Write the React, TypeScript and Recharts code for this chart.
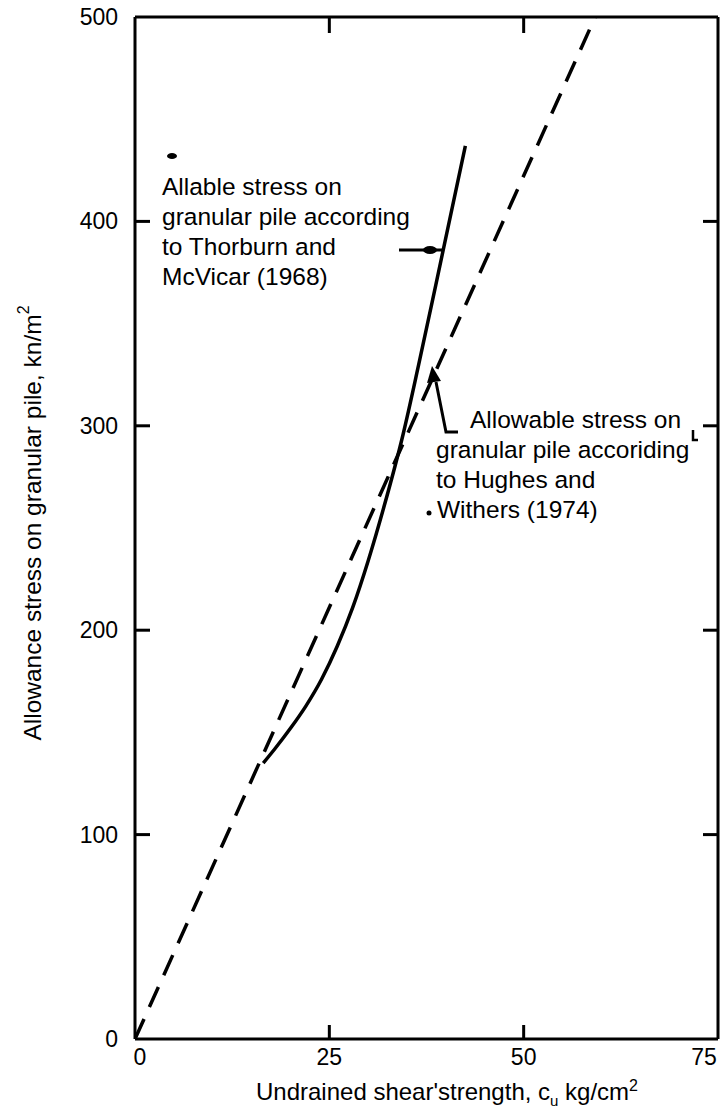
import React from 'react';
import {
  LineChart,
  Line,
  XAxis,
  YAxis,
  Customized,
} from 'recharts';

// Hughes & Withers (1974) – straight dashed line from the origin
const hughesCu = [0, 59.2];
const hughesStress = [0, 500];

// Thorburn & McVicar (1968) – solid curve
const thorburnCu = [16.5, 18, 20, 22, 24, 26, 28, 30, 32, 34.5, 36.5, 38.7, 42.5];
const thorburnStress = [135, 142, 152, 163, 176, 192, 211, 234, 260, 296, 330, 369, 437];

const xTicks = [0, 25, 50, 75];
const xInnerTicks = [25, 50];
const yTicks = [0, 100, 200, 300, 400, 500];
const yInnerTicks = [100, 200, 300, 400];

const hughesData = hughesCu.map((x, i) => ({ x, y: hughesStress[i] }));
const thorburnData = thorburnCu.map((x, i) => ({ x, y: thorburnStress[i] }));

const FONT = '"Liberation Sans", Arial, Helvetica, sans-serif';
const INK = '#000';

const LeftTick = (props: any) => {
  const { x, y, payload } = props;
  const v = payload.value;
  return (
    <g>
      <text x={x} y={y} textAnchor="end" dominantBaseline="central" fontSize={23} fontFamily={FONT} fill={INK}>
        {v}
      </text>
      {yInnerTicks.includes(v) && (
        <line x1={x + 17} x2={x + 32} y1={y} y2={y} stroke={INK} strokeWidth={3} />
      )}
    </g>
  );
};

const RightTick = (props: any) => {
  const { x, y } = props;
  return <line x1={x} x2={x - 15} y1={y} y2={y} stroke={INK} strokeWidth={3} />;
};

const BottomTick = (props: any) => {
  const { x, y, payload } = props;
  const v = payload.value;
  const dx = v === 75 ? -10 : v === 0 ? 5 : 0;
  return (
    <g>
      <text x={x + dx} y={y + 17} textAnchor="middle" fontSize={23} fontFamily={FONT} fill={INK}>
        {v}
      </text>
      {xInnerTicks.includes(v) && (
        <line x1={x} x2={x} y1={y - 9} y2={y - 23} stroke={INK} strokeWidth={3} />
      )}
    </g>
  );
};

const TopTick = (props: any) => {
  const { x, y } = props;
  return <line x1={x} x2={x} y1={y} y2={y + 16} stroke={INK} strokeWidth={3} />;
};

const Annotations = () => {
  const t = { fontSize: 24.5, fontFamily: FONT, fill: INK };
  return (
    <g>
      {/* axis titles */}
      <text
        x={32}
        y={523}
        transform="rotate(-90 32 523)"
        textAnchor="middle"
        dominantBaseline="central"
        {...t}
      >
        Allowance stress on granular pile, kn/m
        <tspan dy={-9} fontSize={16}>2</tspan>
      </text>
      <text x={447} y={1100} textAnchor="middle" {...t} fontSize={24}>
        Undrained shear'strength, c
        <tspan dy={6} fontSize={15}>u</tspan>
        <tspan dy={-6}> kg/cm</tspan>
        <tspan dy={-9} fontSize={16}>2</tspan>
      </text>

      {/* Thorburn and McVicar label */}
      <text x={162} y={195} {...t}>Allable stress on</text>
      <text x={162} y={225} {...t}>granular pile according</text>
      <text x={162} y={255} {...t}>to Thorburn and</text>
      <text x={162} y={285} {...t}>McVicar (1968)</text>
      <line x1={399} x2={442} y1={250} y2={250} stroke={INK} strokeWidth={3} />
      <ellipse cx={430} cy={250} rx={7} ry={4} fill={INK} />

      {/* Hughes and Withers label */}
      <text x={470} y={428} {...t}>Allowable stress on</text>
      <text x={436} y={458} {...t}>granular pile accoriding</text>
      <text x={436} y={488} {...t}>to Hughes and</text>
      <text x={437} y={518} {...t}>Withers (1974)</text>
      <circle cx={429} cy={513} r={2.5} fill={INK} />
      <polyline points="458,432 446,432 436,382" fill="none" stroke={INK} strokeWidth={3} />
      <polygon points="432,366 427,383 441,381" fill={INK} />

      {/* specks from the scan */}
      <ellipse cx={172} cy={156} rx={5} ry={3} fill={INK} />
      <path d="M693 430 L693 440 L698 440" fill="none" stroke={INK} strokeWidth={2.5} />
    </g>
  );
};

export default function App() {
  return (
    <div style={{ position: 'absolute', left: 0, top: 0, background: '#fff' }}>
      <LineChart
        width={722}
        height={1112}
        margin={{ top: 16, right: 3, bottom: 0, left: 0 }}
      >
        <XAxis
          xAxisId="b"
          type="number"
          dataKey="x"
          domain={[0, 75]}
          ticks={xTicks}
          height={73}
          tickSize={0}
          tickMargin={9}
          tickLine={false}
          tick={<BottomTick />}
          axisLine={{ stroke: INK, strokeWidth: 3 }}
          allowDataOverflow
        />
        <XAxis
          xAxisId="t"
          orientation="top"
          type="number"
          dataKey="x"
          domain={[0, 75]}
          ticks={xInnerTicks}
          height={1}
          tickSize={0}
          tickMargin={0}
          tickLine={false}
          tick={<TopTick />}
          axisLine={{ stroke: INK, strokeWidth: 3 }}
          allowDataOverflow
        />
        <YAxis
          yAxisId="l"
          type="number"
          domain={[0, 500]}
          ticks={yTicks}
          width={135}
          tickSize={0}
          tickMargin={17}
          tickLine={false}
          tick={<LeftTick />}
          axisLine={{ stroke: INK, strokeWidth: 3 }}
          allowDataOverflow
        />
        <YAxis
          yAxisId="r"
          orientation="right"
          type="number"
          domain={[0, 500]}
          ticks={yInnerTicks}
          width={1}
          tickSize={0}
          tickMargin={0}
          tickLine={false}
          tick={<RightTick />}
          axisLine={{ stroke: INK, strokeWidth: 3 }}
          allowDataOverflow
        />
        <Line
          xAxisId="t"
          yAxisId="r"
          data={hughesData}
          dataKey="y"
          type="linear"
          stroke={INK}
          strokeWidth={3.5}
          strokeDasharray="22 13"
          dot={false}
          isAnimationActive={false}
        />
        <Line
          xAxisId="b"
          yAxisId="l"
          data={thorburnData}
          dataKey="y"
          type="monotone"
          stroke={INK}
          strokeWidth={3.5}
          dot={false}
          isAnimationActive={false}
        />
        <Customized component={Annotations} />
      </LineChart>
    </div>
  );
}
